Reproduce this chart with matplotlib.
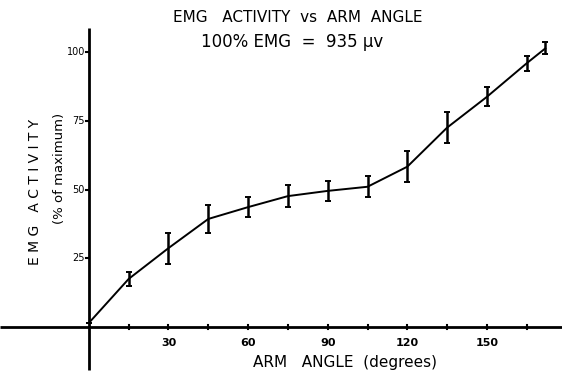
import numpy as np
import matplotlib.pyplot as plt

# arm angle (degrees) and EMG activity (% of maximum)
angle = [0, 15, 30, 45, 60, 75, 90, 105, 120, 135, 150, 165, 172]
emg = [1.5, 17.5, 28.7, 39.3, 43.6, 47.6, 49.5, 51.0, 58.3, 72.5, 83.7, 95.9, 101.3]
err = [0, 2.4, 5.6, 5.1, 3.6, 4.0, 3.6, 3.9, 5.6, 5.5, 3.4, 2.8, 2.2]

x_ticks = [30, 60, 90, 120, 150]
x_minor = [15, 45, 75, 105, 135, 165]
y_ticks = [25, 50, 75, 100]

fig = plt.figure(figsize=(5.62, 3.76), dpi=100)
ax = fig.add_axes([0, 0, 1, 1])
ax.set_xlim(-33.5, 178.3)
ax.set_ylim(-17.8, 118.9)
ax.axis("off")

# hand-drawn style axes crossing at the origin
ax.plot([-33.5, 178.3], [0, 0], color="black", lw=2.0, solid_capstyle="butt")
ax.plot([0, 0], [-15.6, 108.7], color="black", lw=2.0, solid_capstyle="butt")

for t in x_ticks + x_minor:
    ax.plot([t, t], [-0.6, 0.6], color="black", lw=1.5)
for t in x_ticks:
    ax.text(t, -4.0, str(t), ha="center", va="top", fontsize=8, fontweight="bold")
for t in y_ticks:
    ax.plot([-1.2, 0], [t, t], color="black", lw=1.5)
    ax.text(-1.5, t, str(t), ha="right", va="center", fontsize=7)

ax.errorbar(angle, emg, yerr=err, color="black", lw=1.4, elinewidth=1.8,
            capsize=2.5, capthick=1.4)

ax.text(298, 358, "EMG   ACTIVITY  vs  ARM  ANGLE", transform=None, ha="center",
        va="center", fontsize=11)
ax.text(292, 334, "100% EMG  =  935 \u03bcv", transform=None, ha="center",
        va="center", fontsize=12)
ax.text(345, 14, "ARM   ANGLE  (degrees)", transform=None, ha="center",
        va="center", fontsize=11)
ax.text(35, 184, "E M G   A C T I V I T Y", transform=None, ha="center",
        va="center", rotation=90, fontsize=10)
ax.text(60, 208, "(% of maximum)", transform=None, ha="center", va="center",
        rotation=90, fontsize=9.5)

fig.savefig("out.png", dpi=100)
